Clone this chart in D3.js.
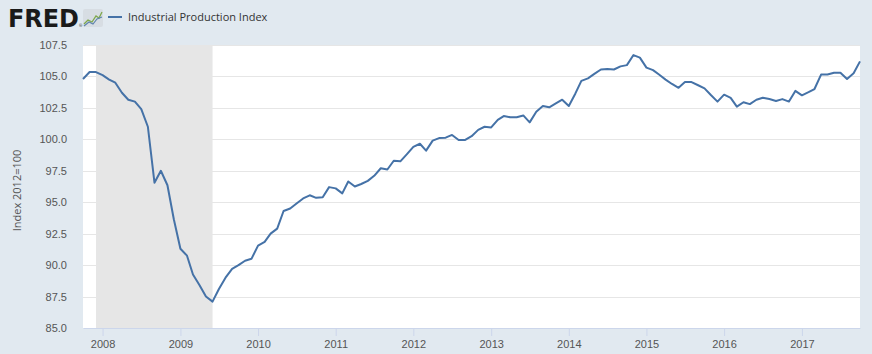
<!DOCTYPE html>
<html>
<head>
<meta charset="utf-8">
<script src="https://cdn.jsdelivr.net/npm/d3@7"></script>
<style>
  body { margin: 0; background: #e1e9f0; }
  svg { display: block; font-family: "Open Sans", sans-serif; }
</style>
</head>
<body>
<div id="chart"></div>
<script>
// monthly values, Oct 2007 .. Oct 2017
const startMonth = "2007-10-01"
const ipValues = [
  104.8, 105.35, 105.35, 105.1, 104.75, 104.5, 103.7, 103.15, 103.0, 102.4, 101.0, 96.55,
  97.5, 96.35, 93.65, 91.3, 90.75, 89.25, 88.4, 87.5, 87.1, 88.1, 89.0, 89.7,
  90.0, 90.35, 90.5, 91.55, 91.85, 92.5, 92.9, 94.3, 94.5, 94.9, 95.3, 95.55,
  95.35, 95.4, 96.2, 96.1, 95.7, 96.65, 96.25, 96.45, 96.7, 97.1, 97.7, 97.6,
  98.3, 98.25, 98.8, 99.4, 99.65, 99.1, 99.9, 100.1, 100.13, 100.35, 99.95, 99.95,
  100.25, 100.75, 101.0, 100.95, 101.55, 101.85, 101.75, 101.75, 101.9, 101.35, 102.2, 102.65,
  102.55, 102.85, 103.15, 102.65, 103.65, 104.65, 104.85, 105.2, 105.55, 105.6, 105.55, 105.8,
  105.9, 106.7, 106.5, 105.7, 105.5, 105.15, 104.75, 104.4, 104.1, 104.55, 104.55, 104.3,
  104.05, 103.5, 103.0, 103.55, 103.3, 102.6, 102.95, 102.8, 103.15, 103.3, 103.2, 103.05,
  103.2, 103.0, 103.85, 103.5, 103.75, 104.0, 105.15, 105.15, 105.3, 105.3, 104.8, 105.25,
  106.2
]
const recession = ["2007-12-01", "2009-06-01"]
const yTicks = [85, 87.5, 90, 92.5, 95, 97.5, 100, 102.5, 105, 107.5]
const xTickYears = [2008, 2009, 2010, 2011, 2012, 2013, 2014, 2015, 2016, 2017]
const seriesName = "Industrial Production Index"
const yTitle = "Index 2012=100"

const W = 872, H = 354
const margin = { top: 45, right: 12, bottom: 26, left: 83 }

const parse = d3.timeParse("%Y-%m-%d")
const t0 = parse(startMonth)
const data = ipValues.map((v, i) => ({ date: d3.timeMonth.offset(t0, i), value: v }))

const svg = d3.select("#chart").append("svg")
    .attr("width", W)
    .attr("height", H)

const x = d3.scaleTime()
    .domain(d3.extent(data, d => d.date))
    .range([margin.left, W - margin.right])
const y = d3.scaleLinear()
    .domain([85, 107.5])
    .range([H - margin.bottom, margin.top])

// plot background
svg.append("rect")
    .attr("x", margin.left).attr("y", margin.top)
    .attr("width", W - margin.right - margin.left)
    .attr("height", H - margin.bottom - margin.top)
    .attr("fill", "#fff")

// recession band
svg.append("rect")
    .attr("x", x(parse(recession[0])))
    .attr("y", margin.top)
    .attr("width", x(parse(recession[1])) - x(parse(recession[0])))
    .attr("height", H - margin.bottom - margin.top)
    .attr("fill", "#e6e6e6")

// gridlines
svg.append("g")
  .selectAll("line")
  .data(yTicks.slice(1))
  .join("line")
    .attr("x1", margin.left).attr("x2", W - margin.right)
    .attr("y1", d => Math.round(y(d)) + 0.5).attr("y2", d => Math.round(y(d)) + 0.5)
    .attr("stroke", "#e6e6e6")

// y axis
const yAxis = svg.append("g")
    .attr("transform", `translate(${margin.left - 13},0)`)
    .call(d3.axisLeft(y).tickValues(yTicks).tickFormat(d3.format(".1f")).tickSize(0))
yAxis.select(".domain").remove()
yAxis.selectAll("text")
    .attr("fill", "#555").attr("font-size", 11)

svg.append("text")
    .attr("transform", `translate(21,${(margin.top + H - margin.bottom) / 2 + 4}) rotate(-90)`)
    .attr("text-anchor", "middle")
    .attr("fill", "#555")
    .attr("font-size", 11)
    .text(yTitle)

// x axis
const xAxis = svg.append("g")
    .attr("transform", `translate(0,${H - margin.bottom})`)
    .call(d3.axisBottom(x)
        .tickValues(xTickYears.map(yr => new Date(yr, 0, 1)))
        .tickFormat(d3.timeFormat("%Y"))
        .tickSize(8).tickSizeOuter(0))
xAxis.select(".domain").attr("stroke", "#ccd6eb")
xAxis.selectAll(".tick line").attr("stroke", "#ccd6eb")
xAxis.selectAll("text")
    .attr("fill", "#555").attr("font-size", 11).attr("dy", "0.8em")

// series line
svg.append("path")
    .datum(data)
    .attr("fill", "none")
    .attr("stroke", "#4572a7")
    .attr("stroke-width", 2)
    .attr("stroke-linejoin", "round")
    .attr("d", d3.line()
        .x(d => x(d.date))
        .y(d => y(d.value)))

// header: FRED logo + legend
const head = svg.append("g")
head.append("text")
    .attr("x", 8).attr("y", 27)
    .attr("font-family", "'DejaVu Sans', sans-serif")
    .attr("font-weight", "bold")
    .attr("font-size", 24)
    .attr("letter-spacing", 0)
    .attr("textLength", 71)
    .attr("lengthAdjust", "spacingAndGlyphs")
    .attr("fill", "#1a1a1a")
    .text("FRED")
head.append("text")
    .attr("x", 79).attr("y", 27)
    .attr("font-size", 4).attr("fill", "#1a1a1a")
    .text("®")
const icon = head.append("g").attr("transform", "translate(83,9)")
icon.append("rect").attr("width", 20).attr("height", 18).attr("rx", 2).attr("fill", "#d7dde3")
icon.append("path").attr("d", "M1,15 L5,11 L9,13 L13,7 L16,9 L19,3")
    .attr("fill", "none").attr("stroke", "#7ea84c").attr("stroke-width", 1.3)
icon.append("path").attr("d", "M1,17 L6,13 L10,15 L14,10 L19,8")
    .attr("fill", "none").attr("stroke", "#5d83ad").attr("stroke-width", 1.1)

head.append("line")
    .attr("x1", 108).attr("x2", 122).attr("y1", 17).attr("y2", 17)
    .attr("stroke", "#4572a7").attr("stroke-width", 2)
head.append("text")
    .attr("x", 128).attr("y", 21)
    .attr("font-size", 11).attr("fill", "#333")
    .text(seriesName)
</script>
</body>
</html>
